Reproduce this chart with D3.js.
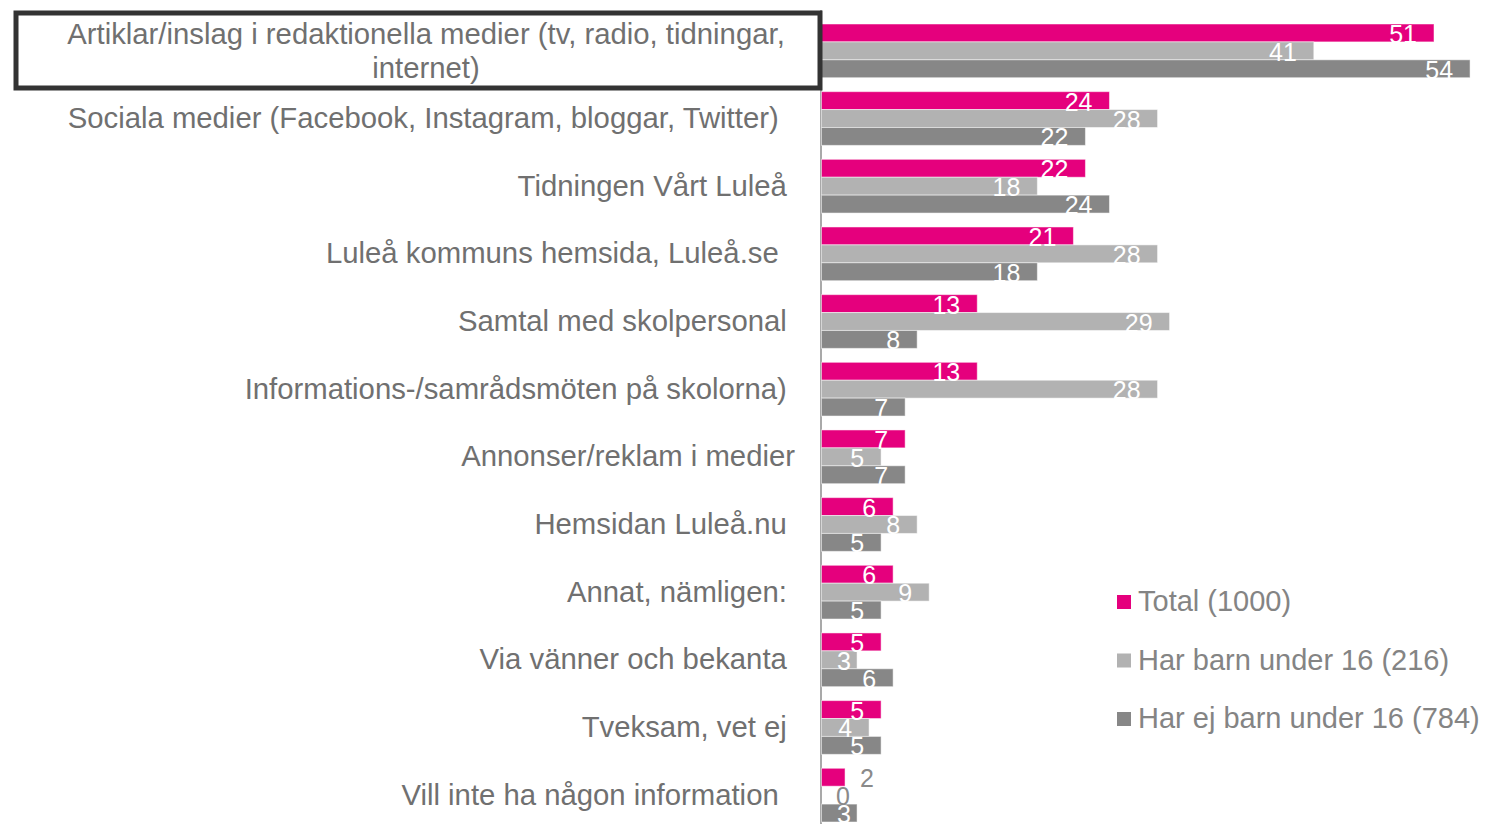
<!DOCTYPE html>
<html>
<head>
<meta charset="utf-8">
<script src="https://cdn.jsdelivr.net/npm/d3@7"></script>
<style>
  html, body { margin: 0; padding: 0; background: #fff; }
  svg text { font-family: "Liberation Sans", Arial, sans-serif; }
</style>
</head>
<body>
<svg id="chart" width="1485" height="824"></svg>
<script>
// Categories (trailing spaces keep Excel-like alignment)
const categories = [
    "Artiklar/inslag i redaktionella medier (tv, radio, tidningar, internet)",
    "Sociala medier (Facebook, Instagram, bloggar, Twitter)  ",
    "Tidningen Vårt Luleå ",
    "Luleå kommuns hemsida, Luleå.se  ",
    "Samtal med skolpersonal ",
    "Informations-/samrådsmöten på skolorna) ",
    "Annonser/reklam i medier",
    "Hemsidan Luleå.nu ",
    "Annat, nämligen: ",
    "Via vänner och bekanta ",
    "Tveksam, vet ej ",
    "Vill inte ha någon information  "
];
const seriesNames = ["Total (1000)", "Har barn under 16 (216)", "Har ej barn under 16 (784)"];
const total     = [51, 24, 22, 21, 13, 13, 7, 6, 6, 5, 5, 2];
const withKids  = [41, 28, 18, 28, 29, 28, 5, 8, 9, 3, 4, 0];
const noKids    = [54, 22, 24, 18, 8, 7, 7, 5, 5, 6, 5, 3];
const colors = ["#e5007d", "#b2b2b2", "#878787"];

const svg = d3.select("#chart");
const textColor = "#707070";
const x0 = 821;

const x = d3.scaleLinear().domain([0, 51]).range([x0, 1434]);
const y = d3.scaleBand().domain(categories).range([24, 822]).paddingInner(0.206).paddingOuter(0);
const ySub = d3.scaleBand().domain(seriesNames).range([0, y.bandwidth()]);

const values = [total, withKids, noKids];
const rows = categories.map((c, i) => ({
    cat: c,
    vals: seriesNames.map((s, j) => ({ series: s, j: j, value: values[j][i] }))
}));

// axis line
svg.append("line")
    .attr("x1", x0).attr("x2", x0)
    .attr("y1", 10).attr("y2", 824)
    .attr("stroke", "#8c8c8c").attr("stroke-width", 1.5);

const groups = svg.selectAll(".grp")
    .data(rows)
    .enter().append("g")
    .attr("class", "grp")
    .attr("transform", d => `translate(0,${y(d.cat)})`);

groups.selectAll("rect")
    .data(d => d.vals)
    .enter().append("rect")
    .attr("x", x0 + 0.5)
    .attr("y", d => ySub(d.series))
    .attr("width", d => Math.max(0, x(d.value) - x0 - 0.5))
    .attr("height", ySub.bandwidth())
    .attr("fill", d => colors[d.j])
    .attr("stroke", "#fff")
    .attr("stroke-opacity", 0.5)
    .attr("stroke-width", 1);

// value labels
groups.selectAll(".val")
    .data(d => d.vals)
    .enter().append("text")
    .attr("class", "val")
    .attr("font-size", 25)
    .attr("dominant-baseline", "central")
    .attr("y", d => ySub(d.series) + ySub.bandwidth() / 2 + 1)
    .text(d => d.value)
    .each(function(d) {
        const t = d3.select(this);
        const w = this.getComputedTextLength();
        const end = x(d.value);
        if (d.value < 3) {
            t.attr("x", end + 15).attr("text-anchor", "start").attr("fill", "#8a8a8a");
        } else {
            t.attr("x", Math.max(end - 17, 837 + w)).attr("text-anchor", "end").attr("fill", "#fff");
        }
    });

// category labels
const labelX = 795;
groups.each(function(d, i) {
    const g = d3.select(this);
    const cy = y.bandwidth() / 2;
    if (i === 0) {
        g.append("rect")
            .attr("x", 16).attr("y", -11)
            .attr("width", 804).attr("height", 75)
            .attr("fill", "#fff")
            .attr("stroke", "#333").attr("stroke-width", 5);
        const t = g.append("text")
            .attr("font-size", 29.3)
            .attr("fill", textColor)
            .attr("text-anchor", "middle");
        t.append("tspan").attr("x", 426).attr("y", cy - 7).text("Artiklar/inslag i redaktionella medier (tv, radio, tidningar,");
        t.append("tspan").attr("x", 426).attr("y", cy + 27).text("internet)");
    } else {
        g.append("text")
            .attr("x", labelX)
            .attr("y", cy - 1)
            .attr("dominant-baseline", "central")
            .attr("text-anchor", "end")
            .attr("font-size", 29.3)
            .attr("fill", textColor)
            .style("white-space", "pre")
            .text(d.cat);
    }
});

// legend
const legend = svg.append("g").attr("transform", "translate(1117,602)");
const li = legend.selectAll("g")
    .data(seriesNames)
    .enter().append("g")
    .attr("transform", (d, i) => `translate(0,${i * 58.5})`);
li.append("rect")
    .attr("x", 0).attr("y", -7)
    .attr("width", 14).attr("height", 14)
    .attr("fill", (d, i) => colors[i]);
li.append("text")
    .attr("x", 21).attr("y", -1)
    .attr("dominant-baseline", "central")
    .attr("font-size", 29)
    .attr("fill", "#848484")
    .text(d => d);
</script>
</body>
</html>
